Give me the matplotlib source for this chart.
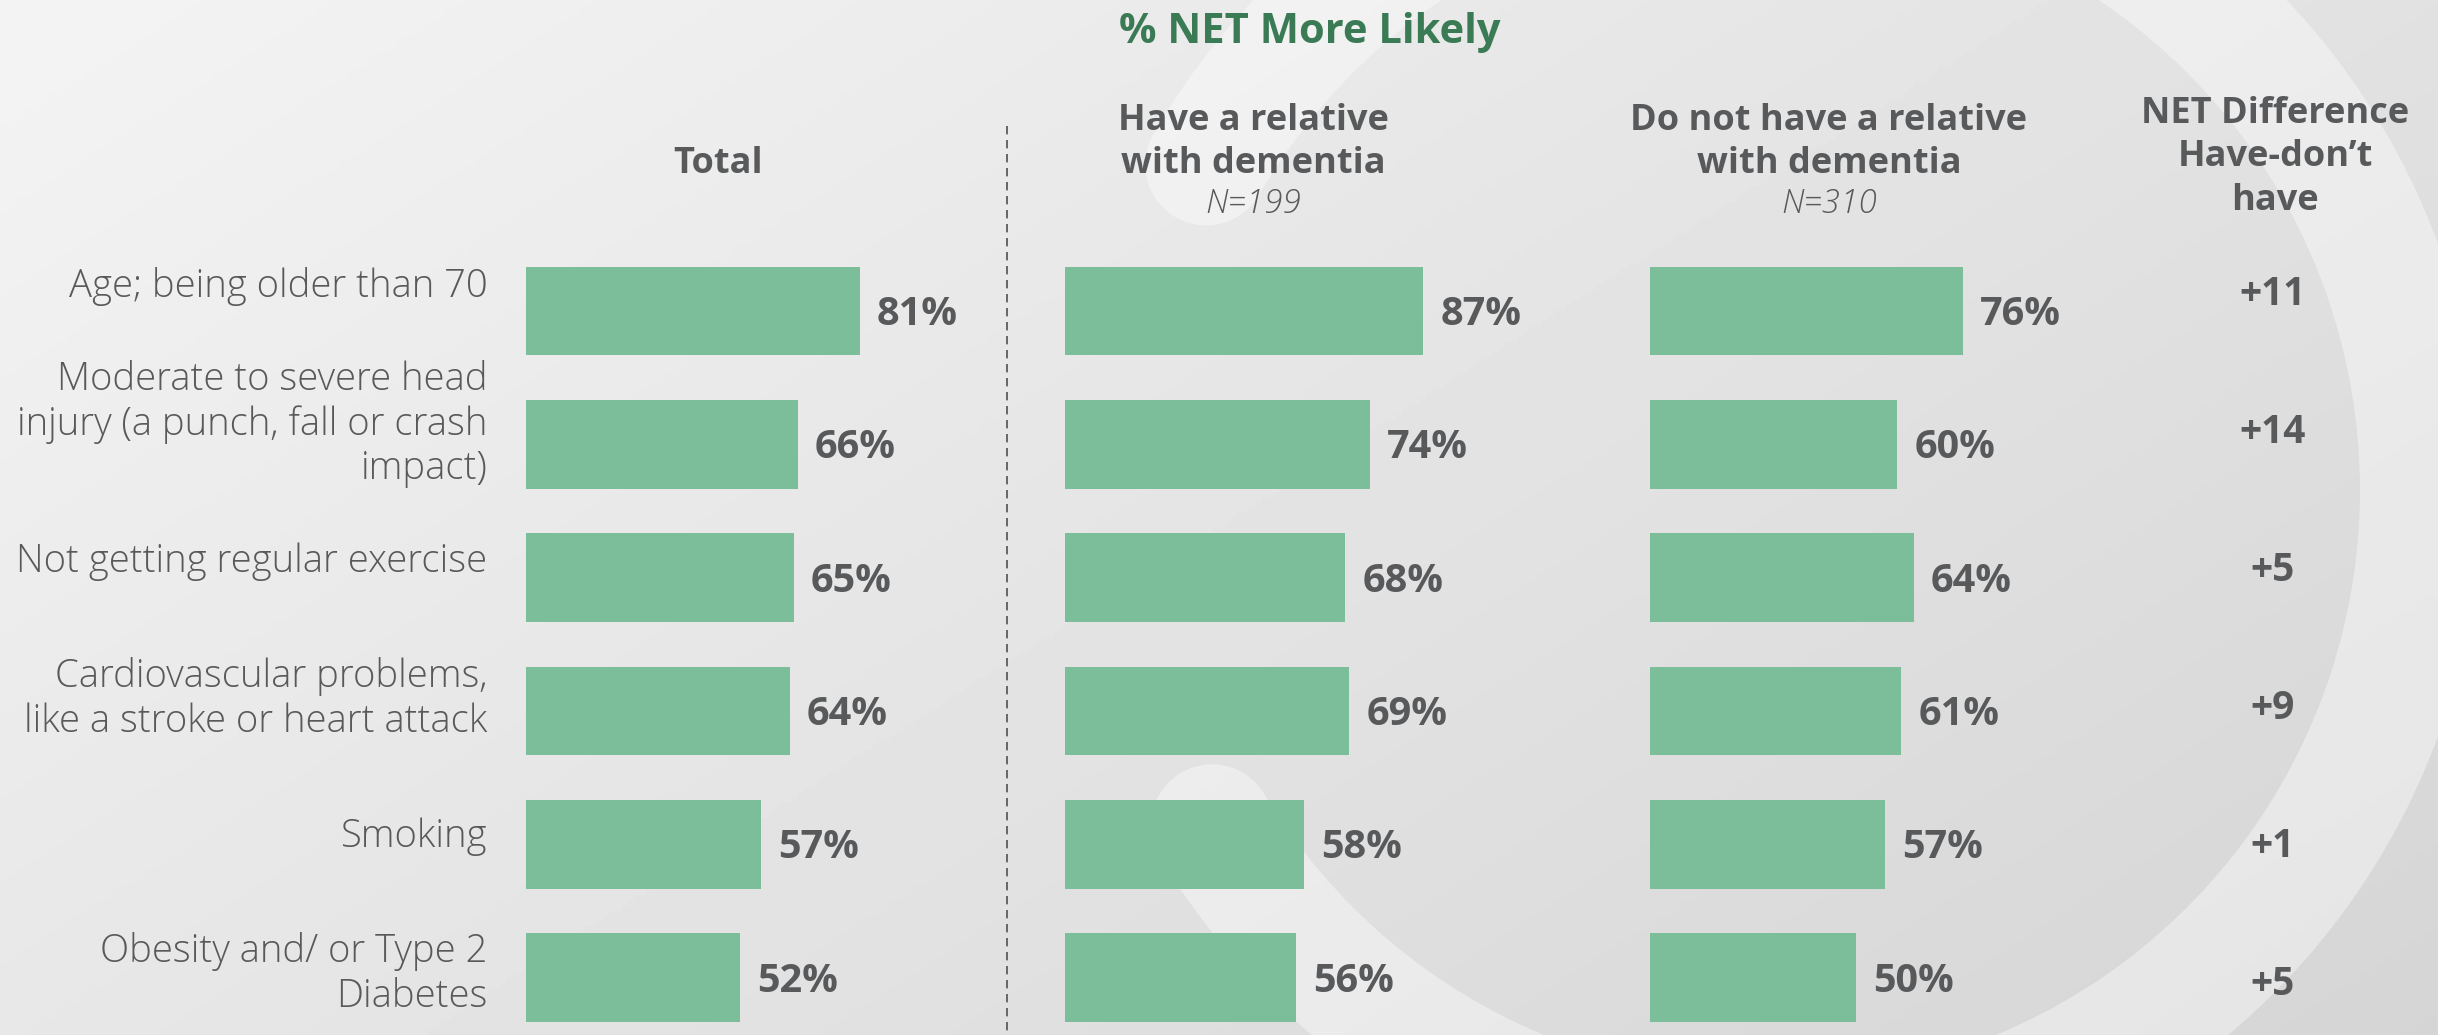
import matplotlib.pyplot as plt
import numpy as np
from matplotlib.patches import Arc

plt.rcParams['font.family'] = ['Open Sans', 'DejaVu Sans']

# --- data ---
factors = ["Age; being older than 70",
           "Moderate to severe head\ninjury (a punch, fall or crash\nimpact)",
           "Not getting regular exercise",
           "Cardiovascular problems,\nlike a stroke or heart attack",
           "Smoking",
           "Obesity and/ or Type 2\nDiabetes"]
total = [81, 66, 65, 64, 57, 52]
have_relative = [87, 74, 68, 69, 58, 56]
no_relative = [76, 60, 64, 61, 57, 50]
net_diff = ["+11", "+14", "+5", "+9", "+1", "+5"]

title = "% NET More Likely"
headers = ["Total", "Have a relative\nwith dementia", "Do not have a relative\nwith dementia"]
sample_sizes = ["", "N=199", "N=310"]
net_header = "NET Difference\nHave-don\u2019t\nhave"

BAR = "#7BBE99"
GRAY = "#58595B"
GREEN = "#3A7B55"

W, H = 2438, 1035
fig = plt.figure(figsize=(W / 100, H / 100), dpi=100)


def fx(px):
    return px / W


def fy(py):
    return 1 - py / H


# background: soft diagonal gradient plus a light ring
bg = fig.add_axes([0, 0, 1, 1], zorder=-10)
X, Y = np.meshgrid(np.linspace(0, 1, 400), np.linspace(0, 1, 200))
shade = 0.955 - 0.12 * (0.6 * X + 0.4 * Y)
bg.imshow(shade, cmap='gray', vmin=0, vmax=1, extent=[0, W, H, 0], aspect='auto')
ring = Arc((1770, 490), 1302, 1302, theta1=210, theta2=509, lw=122 * 0.72,
           color='white', alpha=0.4, capstyle='round')
bg.add_patch(ring)
bg.plot([1007, 1007], [126, H], color="#666666", lw=1.4, ls=(0, (4.3, 2.9)))
bg.set_xlim(0, W)
bg.set_ylim(H, 0)
bg.axis('off')

# --- bar panels ---
panel_left = [526, 1065, 1650]
header_x = [718, 1253, 1829]
row_px = 133.33
top_px = 311 - row_px / 2
axes = []
for left, vals in zip(panel_left, [total, have_relative, no_relative]):
    ax = fig.add_axes([fx(left), fy(top_px + 6 * row_px), 412 / W, 6 * row_px / H])
    ax.barh(range(len(vals)), vals, height=0.665, color=BAR)
    ax.set_xlim(0, 100)
    ax.set_ylim(5.5, -0.5)
    ax.axis('off')
    for i, v in enumerate(vals):
        ax.annotate(f"{v}%", xy=(v, i), xytext=(17, -14), textcoords='offset pixels',
                    ha='left', va='baseline', fontsize=28.5, fontweight='bold', color=GRAY)
    axes.append(ax)

# category labels (each line placed separately)
line_gap = 44.5
for i, lab in enumerate(factors):
    lines = lab.split("\n")
    centre = -27 + 4.2 * i
    first = centre - (len(lines) - 1) * line_gap / 2 + 13
    for k, line in enumerate(lines):
        axes[0].annotate(line, xy=(0, i), xytext=(-38.5, -(first + k * line_gap)),
                         textcoords='offset pixels', ha='right', va='baseline',
                         fontsize=27.5, fontweight=300, color=GRAY,
                         annotation_clip=False)

# net difference column
for i, d in enumerate(net_diff):
    shift = -19 + 4.6 * i
    axes[2].annotate(d, xy=(fx(2273), i), xycoords=('figure fraction', 'data'),
                     xytext=(0, -(shift + 13)), textcoords='offset pixels',
                     ha='center', va='baseline', fontsize=28, fontweight='bold',
                     color=GRAY, annotation_clip=False)


def put(px, py, s, **kw):
    fig.text(fx(px), fy(py), s, ha='center', va='baseline', **kw)


put(1310, 43, title, fontsize=30, fontweight='bold', color=GREEN)

for hx, head, n in zip(header_x, headers, sample_sizes):
    lines = head.split("\n")
    base = 173 - 43 * (len(lines) - 1)
    for k, line in enumerate(lines):
        put(hx, base + 43 * k, line, fontsize=26, fontweight='bold', color=GRAY)
    if n:
        put(hx, 213, n, fontsize=24, fontstyle='italic', fontweight=300, color=GRAY)

for k, line in enumerate(net_header.split("\n")):
    put(2275, 123 + 43.5 * k, line, fontsize=26, fontweight='bold', color=GRAY)

fig.savefig("out.png", dpi=100)
